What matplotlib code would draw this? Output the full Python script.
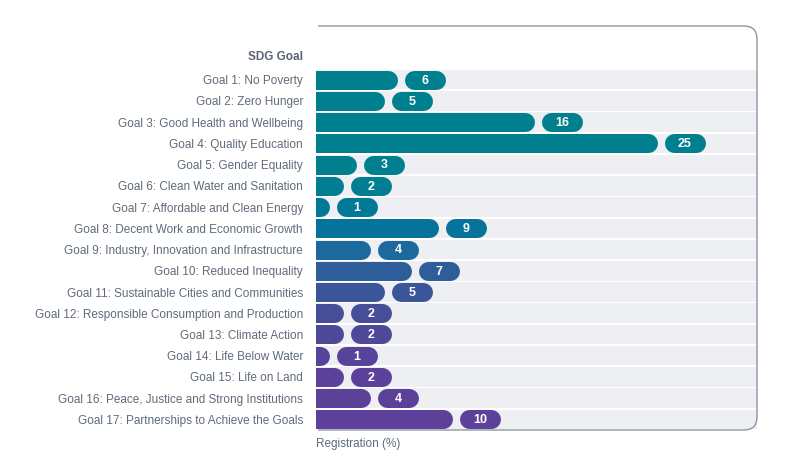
import matplotlib
matplotlib.use("Agg")
import matplotlib.pyplot as plt
from matplotlib.patches import FancyBboxPatch, Rectangle
from matplotlib.transforms import IdentityTransform

plt.rcParams['font.family'] = ['Liberation Sans', 'DejaVu Sans']

goals = [
    "Goal 1: No Poverty",
    "Goal 2: Zero Hunger",
    "Goal 3: Good Health and Wellbeing",
    "Goal 4: Quality Education",
    "Goal 5: Gender Equality",
    "Goal 6: Clean Water and Sanitation",
    "Goal 7: Affordable and Clean Energy",
    "Goal 8: Decent Work and Economic Growth",
    "Goal 9: Industry, Innovation and Infrastructure",
    "Goal 10: Reduced Inequality",
    "Goal 11: Sustainable Cities and Communities",
    "Goal 12: Responsible Consumption and Production",
    "Goal 13: Climate Action",
    "Goal 14: Life Below Water",
    "Goal 15: Life on Land",
    "Goal 16: Peace, Justice and Strong Institutions",
    "Goal 17: Partnerships to Achieve the Goals",
]
registration = [6, 5, 16, 25, 3, 2, 1, 9, 4, 7, 5, 2, 2, 1, 2, 4, 10]
colors = ["#00808F", "#00808F", "#00808F", "#00808F", "#00808F", "#017E91",
          "#037A95", "#05739A", "#1C6A9D", "#2E5E99", "#3A5699", "#464E99",
          "#4E4898", "#574399", "#5B4199", "#5C4199", "#5D4099"]

fig = plt.figure(figsize=(8, 4.59), dpi=100)
# axes in pixels: x 316..757, y 26..430 (from top)
ax = fig.add_axes([316 / 800, 29 / 459, 441 / 800, 404 / 459])
ax.set_xlim(0, 441 / 13.65)
ax.set_ylim(16.5, -2.53)
for s in ax.spines.values():
    s.set_visible(False)
ax.set_xticks([])
ax.set_yticks(range(len(goals)), goals)
ax.tick_params(axis='y', length=0, pad=9.4, labelsize=8.5, labelcolor="#5F6B7A")

xmax = 441 / 13.65
bar_px = 19                      # bar thickness in pixels
lw = bar_px * 72 / 100           # in points
cap = bar_px / 2 / 13.65         # round cap length in x units
gap = 7 / 13.65
pill_w = 41 / 13.65

for i, (v, c) in enumerate(zip(registration, colors)):
    ax.add_patch(Rectangle((0, i - 0.46), xmax, 0.92, color="#EEEFF3", lw=0))
    # bar: square at the axis (clipped), round at the end
    ax.plot([-2, v - cap], [i, i], color=c, lw=lw, solid_capstyle='round')
    x0 = v + gap
    ax.plot([x0 + cap, x0 + pill_w - cap], [i, i], color=c, lw=lw,
            solid_capstyle='round')
    ax.text(x0 + pill_w / 2, i + 0.04, str(v), ha='center', va='center',
            color='white', fontsize=9, fontweight='bold')

ax.text(-13 / 13.65, -1.05, "SDG Goal", ha='right', va='center',
        fontsize=8.5, fontweight='bold', color="#5A6573")

# rounded frame (left side hidden)
frame = FancyBboxPatch((290, 29), 757 - 290, 433 - 29,
                       boxstyle="round,pad=0,rounding_size=13",
                       transform=IdentityTransform(), fc="none",
                       ec="#8E96A3", lw=1.0)
fig.add_artist(frame)
clip = Rectangle((317.5, 0), 500, 459, transform=IdentityTransform())
frame.set_clip_path(clip)

fig.text(316 / 800, 1 - 444 / 459, "Registration (%)", ha='left', va='center',
         fontsize=8.5, color="#5F6B7A")

fig.savefig("out.png", dpi=100)
